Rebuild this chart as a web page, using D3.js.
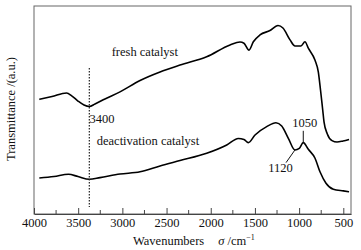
<!DOCTYPE html>
<html lang="en">
<head>
  <meta charset="UTF-8">
  <script src="https://d3js.org/d3.v7.min.js"></script>
  <title>IR spectra</title>
  <style>
    body { margin: 0; background: #fff; }
    text { font-family: "Liberation Serif", "Times New Roman", serif; fill: #111; }
  </style>
</head>
<body>
  <svg id="chart" width="361" height="250"></svg>
  <script>
    // wavenumber (cm-1) / transmittance (a.u.)
    const freshWave = [3940, 3796, 3632, 3570, 3502, 3434, 3374, 3310, 3197, 3027, 2800, 2574, 2348, 2046,
      1782, 1669, 1624, 1567, 1518, 1443, 1330, 1239, 1183, 1103, 1047, 979, 934, 896, 821, 783, 758,
      733, 718, 681, 628, 571, 503, 435];
    const freshT = [55.1, 56.5, 58.2, 56.7, 54.3, 52.4, 51.7, 52.9, 55.3, 58.7, 64.2, 68.3, 71.6, 75.6,
      81.3, 82.7, 82.1, 78.8, 82.8, 86.1, 88.2, 90.6, 89.4, 83.7, 80.8, 80.8, 82.8, 79.7, 74.0, 68.3, 59.6,
      50.0, 44.2, 38.5, 35.3, 34.6, 35.1, 35.8];

    const deactWave = [3940, 3774, 3610, 3502, 3374, 3253, 3027, 2800, 2574, 2348, 2046, 1819, 1688, 1624,
      1575, 1499, 1367, 1262, 1197, 1122, 1047, 998, 953, 896, 820, 764, 696, 613, 500, 435];
    const deactT = [17.3, 18.0, 19.1, 18.0, 16.7, 17.5, 19.2, 20.3, 23.1, 25.7, 29.2, 33.2, 36.3, 35.8,
      34.3, 38.0, 42.0, 43.9, 42.3, 36.4, 30.8, 31.6, 34.3, 31.1, 26.8, 20.3, 14.8, 11.9, 11.1, 10.7];

    const majorTicks = [4000, 3500, 3000, 2500, 2000, 1500, 1000, 500];
    const minorTicks = [3750, 3250, 2750, 2250, 1750, 1250, 750];

    // text labels placed in data units
    const labelText = ["fresh catalyst", "deactivation catalyst", "3400", "1050", "1120"];
    const labelWave = [3121, 3290, 3372, 937, 1211];
    const labelT = [76.0, 33.2, 43.8, 42.0, 20.3];
    const labelAnchor = ["start", "start", "start", "middle", "middle"];

    // leader lines [wave1, t1, wave2, t2]
    const leaders = [[953, 40.0, 953, 34.3], [1148, 24.7, 1047, 30.8]];
    const markWave = 3374;

    const svg = d3.select("#chart");
    const mL = 34, mR = 351, mT = 6, mB = 214;

    const x = d3.scaleLinear().domain([4000, 413]).range([mL, mR]);
    const y = d3.scaleLinear().domain([0, 100]).range([mB, mT]);

    // frame
    svg.append("rect")
      .attr("x", mL).attr("y", mT)
      .attr("width", mR - mL).attr("height", mB - mT)
      .attr("fill", "none").attr("stroke", "#666").attr("stroke-width", 1);

    // bottom axis, ticks pointing inward
    const axis = svg.append("g").attr("transform", `translate(0,${mB})`)
      .call(d3.axisBottom(x).tickValues(majorTicks).tickFormat(d3.format("d"))
        .tickSizeInner(-6).tickSizeOuter(0).tickPadding(4.5));
    axis.select(".domain").attr("stroke", "#444");
    axis.selectAll(".tick line").attr("stroke", "#444");
    axis.selectAll(".tick text")
      .attr("font-family", "Liberation Serif").attr("font-size", 12.5).attr("fill", "#111");

    svg.append("g").selectAll("line")
      .data(minorTicks).join("line")
      .attr("x1", d => x(d)).attr("x2", d => x(d))
      .attr("y1", mB).attr("y2", mB - 4)
      .attr("stroke", "#444");

    const line = d3.line()
      .x(d => x(d[0])).y(d => y(d[1]))
      .curve(d3.curveMonotoneX);

    svg.append("path")
      .datum(d3.zip(freshWave, freshT))
      .attr("d", line)
      .attr("fill", "none").attr("stroke", "#000").attr("stroke-width", 1.6);

    svg.append("path")
      .datum(d3.zip(deactWave, deactT))
      .attr("d", line)
      .attr("fill", "none").attr("stroke", "#000").attr("stroke-width", 1.6);

    // dotted marker at 3400
    svg.append("line")
      .attr("x1", x(markWave)).attr("x2", x(markWave))
      .attr("y1", y(70.2)).attr("y2", y(3.4))
      .attr("stroke", "#222").attr("stroke-width", 1.2)
      .attr("stroke-dasharray", "1.5,1.5");

    svg.append("g").selectAll("line")
      .data(leaders).join("line")
      .attr("x1", d => x(d[0])).attr("y1", d => y(d[1]))
      .attr("x2", d => x(d[2])).attr("y2", d => y(d[3]))
      .attr("stroke", "#111").attr("stroke-width", 1);

    svg.append("g").selectAll("text")
      .data(labelText).join("text")
      .attr("x", (d, i) => x(labelWave[i]))
      .attr("y", (d, i) => y(labelT[i]))
      .attr("text-anchor", (d, i) => labelAnchor[i])
      .attr("font-size", 12.5)
      .text(d => d);

    // axis titles
    const xt = svg.append("text")
      .attr("x", 133).attr("y", 245)
      .attr("font-size", 12.5);
    xt.append("tspan").text("Wavenumbers");
    xt.append("tspan").attr("dx", 14).attr("font-style", "italic").text("σ");
    xt.append("tspan").text(" /cm");
    xt.append("tspan").attr("font-size", 8).attr("dy", -5).text("−1");

    svg.append("text")
      .attr("transform", "translate(15,109) rotate(-90)")
      .attr("text-anchor", "middle")
      .attr("font-size", 12.5)
      .text("Transmittance /(a.u.)");
  </script>
</body>
</html>
